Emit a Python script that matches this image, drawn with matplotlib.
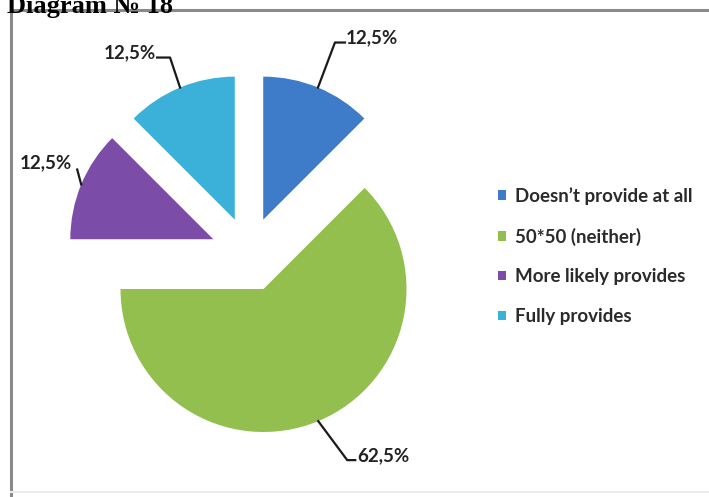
import matplotlib.pyplot as plt
import numpy as np

# data
labels = ["Doesn\u2019t provide at all", "50*50 (neither)", "More likely provides", "Fully provides"]
values = [12.5, 62.5, 12.5, 12.5]
pct_text = ["12,5%", "62,5%", "12,5%", "12,5%"]

colors = ["#3e7bc8", "#93bf4f", "#7b4ca8", "#3bb0d8"]
explode = [0.26, 0.265, 0.27, 0.26]   # fraction of the radius

W, H = 709, 497
R = 143
fig = plt.figure(figsize=(W / 100, H / 100), dpi=100)
ax = fig.add_axes([0, 0, 1, 1])

# pie's explode is in data units, so scale it by the radius
wedges, _ = ax.pie(values, colors=colors, explode=[e * R for e in explode],
                   startangle=90, counterclock=False, center=(249, H - 254),
                   radius=R, wedgeprops=dict(linewidth=0))
ax.set_xlim(0, W)
ax.set_ylim(0, H)
ax.set_aspect('auto')
ax.axis('off')

# chart frame (only left and top visible in the crop)
ax.plot([11, 11, W + 5], [-5, H - 10, H - 10], color="#8a8a8a", lw=2.2,
        solid_joinstyle='miter')
ax.plot([11, W + 5], [5, 5], color="#ececec", lw=1.5)

# title, cut off by the top of the picture
ax.text(7, H - 13, "Diagram \u2116 18", fontfamily="Liberation Serif",
        fontweight="bold", fontsize=19, va="baseline", ha="left", color="black")

# leader lines: (elbow dx, dy), (end dx, dy), (text dx, dy, align) in pixels, y downwards
leaders = [
    ((17, -45), (27, -45), (28, -50, "left")),
    ((29, 39), (37, 39), (39, 35, "left")),
    ((-4, -15), (-4, -15), (-9, -22, "right")),
    ((-10, -30), (-23, -30), (-24, -35, "right")),
]

for w, txt, (el, en, tp) in zip(wedges, pct_text, leaders):
    th = np.deg2rad((w.theta1 + w.theta2) / 2)
    sx = w.center[0] + w.r * np.cos(th)
    sy = w.center[1] + w.r * np.sin(th)
    xs = [sx, sx + el[0], sx + en[0]]
    ys = [sy, sy - el[1], sy - en[1]]
    ax.plot(xs, ys, color="#1a1a1a", lw=1.6)
    ax.text(sx + tp[0], sy - tp[1], txt, ha=tp[2], va="center",
            fontfamily="Lato", fontweight="bold", fontsize=13.5, color="#222222")

leg = ax.legend(wedges, labels, loc="center left",
                bbox_to_anchor=(498 / W, 1 - 256 / H), frameon=False,
                prop=dict(family="Lato", weight="bold", size=13.5),
                handlelength=0.4, handleheight=0.4, handletextpad=0.5,
                labelspacing=1.22, borderpad=0, borderaxespad=0)
for t in leg.get_texts():
    t.set_color("#2a2a2a")

fig.savefig("out.png", dpi=100, facecolor="white")
